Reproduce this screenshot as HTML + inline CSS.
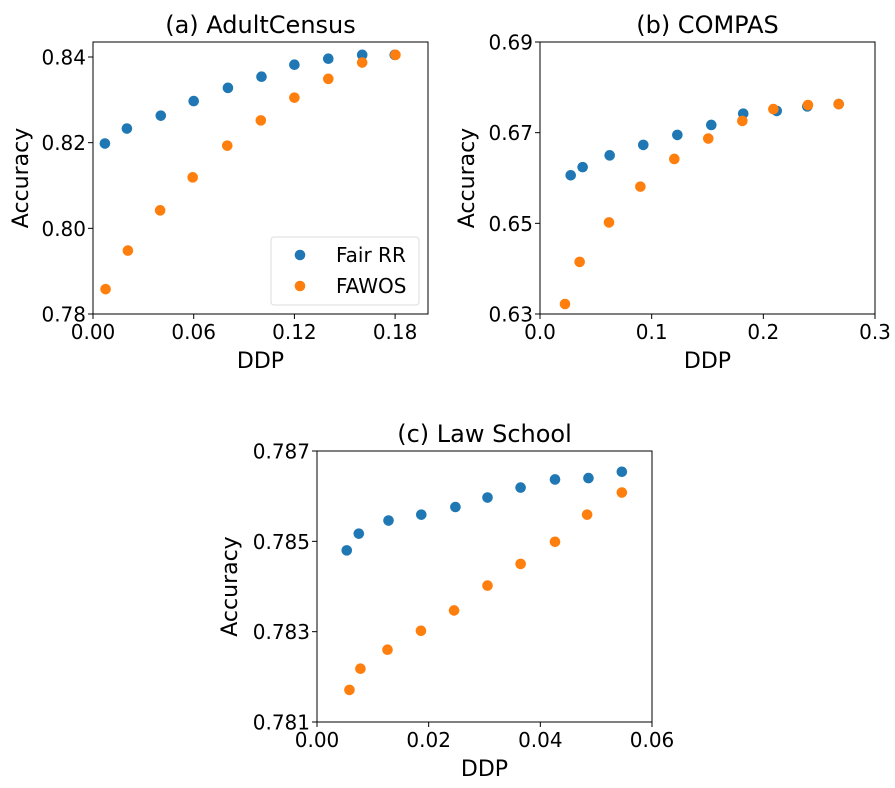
<!DOCTYPE html>
<html><head><meta charset="utf-8"><style>
body{margin:0;background:#fff}
svg{display:block;font-family:"DejaVu Sans","Liberation Sans",sans-serif}
</style></head><body>
<svg id="fig" width="895" height="788" viewBox="0 0 895 788"></svg>
<script>
const adultFairX=[0.0071,0.0202,0.0404,0.06,0.0804,0.1004,0.12,0.1402,0.1604,0.1798];
const adultFairY=[0.8198,0.8233,0.8263,0.8297,0.8328,0.8354,0.8382,0.8396,0.8405,0.8405];
const adultFawosX=[0.0075,0.0208,0.04,0.0594,0.08,0.1,0.12,0.1402,0.1604,0.1802];
const adultFawosY=[0.7858,0.7948,0.8042,0.8119,0.8193,0.8252,0.8305,0.8349,0.8387,0.8405];
const compasFairX=[0.0275,0.0382,0.0624,0.0925,0.123,0.1534,0.182,0.212,0.2394,0.2675];
const compasFairY=[0.6606,0.6624,0.6650,0.6673,0.6695,0.6717,0.6742,0.6748,0.6758,0.6763];
const compasFawosX=[0.0224,0.0355,0.0618,0.0899,0.1203,0.1507,0.1812,0.209,0.24,0.2675];
const compasFawosY=[0.6322,0.6415,0.6502,0.6581,0.6642,0.6687,0.6726,0.6752,0.6761,0.6763];
const lawFairX=[0.00533,0.00749,0.01281,0.01868,0.02479,0.03054,0.03647,0.04263,0.04862,0.0546];
const lawFairY=[0.78480,0.78517,0.78546,0.78559,0.78576,0.78597,0.78619,0.78637,0.78640,0.78654];
const lawFawosX=[0.00581,0.00778,0.01263,0.01862,0.02455,0.03054,0.03647,0.04263,0.04838,0.0546];
const lawFawosY=[0.78171,0.78218,0.78260,0.78302,0.78347,0.78402,0.78450,0.78499,0.78559,0.78608];
const adultXTicks=["0.00","0.06","0.12","0.18"];
const adultYTicks=["0.78","0.80","0.82","0.84"];
const compasXTicks=["0.0","0.1","0.2","0.3"];
const compasYTicks=["0.63","0.65","0.67","0.69"];
const lawXTicks=["0.00","0.02","0.04","0.06"];
const lawYTicks=["0.781","0.783","0.785","0.787"];
const seriesNames=["Fair RR","FAWOS"];

const NS="http://www.w3.org/2000/svg";
const svg=document.getElementById('fig');
function mk(tag,attrs,parent,text){const e=document.createElementNS(NS,tag);for(const k in attrs)e.setAttribute(k,attrs[k]);if(text!==undefined)e.textContent=text;(parent||svg).appendChild(e);return e;}
const COLORS=["#1f77b4","#ff7f0e"];

function panel(cfg){
  const g=mk('g',{});
  
  
  const sx=v=>cfg.x0+(v-cfg.xmin)/(cfg.xmax-cfg.xmin)*(cfg.x1-cfg.x0);
  const sy=v=>cfg.y1-(v-cfg.ymin)/(cfg.ymax-cfg.ymin)*(cfg.y1-cfg.y0);
  cfg.xTicks.forEach(t=>{const X=sx(parseFloat(t));
    const l=mk('line',{x1:X,x2:X,y1:cfg.y1,y2:cfg.y1+5,stroke:'#000','stroke-width':1},g);
    
    const tx=mk('text',{x:X,y:cfg.y1+25,'font-size':20,'text-anchor':'middle'},g,t);
    });
  cfg.yTicks.forEach(t=>{const Y=sy(parseFloat(t));
    const l=mk('line',{x1:cfg.x0-5,x2:cfg.x0,y1:Y,y2:Y,stroke:'#000','stroke-width':1},g);
    
    const tx=mk('text',{x:cfg.x0-7,y:Y+7.5,'font-size':20,'text-anchor':'end'},g,t);
    });
  const series=[[cfg.fx,cfg.fy],[cfg.ox,cfg.oy]];
  series.forEach((s,si)=>{s[0].forEach((v,i)=>{
    const c=mk('circle',{cx:sx(v),cy:sy(s[1][i]),r:5.3,fill:COLORS[si]},g);
    
    });});
  const r=mk('rect',{x:cfg.x0,y:cfg.y0,width:cfg.x1-cfg.x0,height:cfg.y1-cfg.y0,fill:'none',stroke:'#000','stroke-width':1},g);
  
  const ti=mk('text',{x:(cfg.x0+cfg.x1)/2,y:cfg.y0-9,'font-size':24,'text-anchor':'middle'},g,cfg.title);
  
  const xl=mk('text',{x:(cfg.x0+cfg.x1)/2,y:cfg.y1+54,'font-size':22,'text-anchor':'middle'},g,'DDP');
  
  const yc=(cfg.y0+cfg.y1)/2, yx=cfg.x0-(cfg.yoff||64);
  const yl=mk('text',{x:yx,y:yc,'font-size':22,'text-anchor':'middle',transform:`rotate(-90 ${yx} ${yc})`},g,'Accuracy');
  
}
panel({name:'panel-adultcensus',title:'(a) AdultCensus',x0:93,x1:428,y0:42,y1:314,xmin:0,xmax:0.1996,ymin:0.78,ymax:0.8435,
  xTicks:adultXTicks,yTicks:adultYTicks,fx:adultFairX,fy:adultFairY,ox:adultFawosX,oy:adultFawosY,yoff:65});
panel({name:'panel-compas',title:'(b) COMPAS',x0:540,x1:875,y0:42,y1:314,xmin:0,xmax:0.3,ymin:0.63,ymax:0.69,
  xTicks:compasXTicks,yTicks:compasYTicks,fx:compasFairX,fy:compasFairY,ox:compasFawosX,oy:compasFawosY,yoff:66});
panel({name:'panel-law-school',title:'(c) Law School',x0:317,x1:652,y0:451,y1:722,xmin:0,xmax:0.06,ymin:0.781,ymax:0.787,
  xTicks:lawXTicks,yTicks:lawYTicks,fx:lawFairX,fy:lawFairY,ox:lawFawosX,oy:lawFawosY,yoff:80});

const lg=mk('g',{});


mk('rect',{x:271,y:237,width:148,height:68,rx:3,fill:'#fff',stroke:'#ddd','stroke-width':1},lg);
seriesNames.forEach((n,i)=>{
  const e=mk('g',{},lg);
  
  
  mk('circle',{cx:300,cy:255+i*31,r:5.3,fill:COLORS[i]},e);
  mk('text',{x:336,y:262+i*31,'font-size':20},e,n);
});
</script>
</body></html>
